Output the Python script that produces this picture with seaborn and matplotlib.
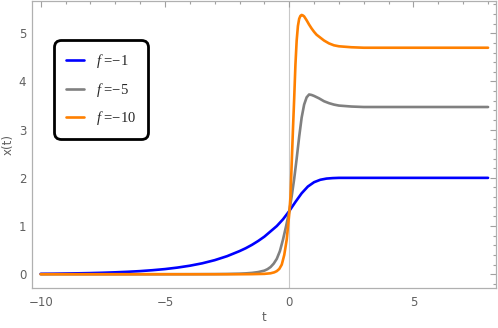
import matplotlib
matplotlib.use('Agg')
import matplotlib.pyplot as plt
from matplotlib.ticker import MultipleLocator
import numpy as np
import pandas as pd
import seaborn as sns

# values
t_blue = [-10, -9.5, -9, -8.5, -8, -7.5, -7, -6.5, -6, -5.5, -5, -4.5, -4, -3.5, -3,
          -2.5, -2, -1.75, -1.5, -1.25, -1, -0.75, -0.5, -0.25, 0, 0.25, 0.5, 0.75,
          1, 1.25, 1.5, 1.75, 2, 2.5, 3, 4, 5, 6, 7, 8]
x_blue = [0.009, 0.011, 0.015, 0.019, 0.024, 0.031, 0.040, 0.051, 0.065, 0.084, 0.107,
          0.138, 0.177, 0.227, 0.292, 0.375, 0.48, 0.54, 0.61, 0.69, 0.78, 0.89, 1.0,
          1.14, 1.31, 1.5, 1.68, 1.82, 1.91, 1.96, 1.985, 1.995, 2.0, 2.0, 2.0, 2.0,
          2.0, 2.0, 2.0, 2.0]

t_gray = [-10, -8, -6, -4, -3, -2.5, -2, -1.75, -1.5, -1.25, -1, -0.875, -0.75, -0.625,
          -0.5, -0.375, -0.25, -0.125, 0, 0.1, 0.2, 0.3, 0.4, 0.5, 0.6, 0.7, 0.8, 0.9,
          1.0, 1.2, 1.4, 1.6, 1.8, 2.0, 2.5, 3, 4, 5, 6, 7, 8]
x_gray = [0.0, 0.0, 0.0, 0.001, 0.003, 0.006, 0.012, 0.018, 0.028, 0.045, 0.075, 0.105,
          0.15, 0.22, 0.32, 0.48, 0.72, 1.0, 1.3, 1.62, 1.98, 2.4, 2.85, 3.25, 3.52,
          3.67, 3.73, 3.72, 3.70, 3.65, 3.59, 3.55, 3.52, 3.50, 3.48, 3.47, 3.47, 3.47,
          3.47, 3.47, 3.47]

t_orange = [-10, -8, -6, -4, -2, -1.5, -1, -0.75, -0.6, -0.5, -0.4, -0.3, -0.2, -0.1, 0,
            0.05, 0.1, 0.15, 0.2, 0.25, 0.3, 0.35, 0.4, 0.45, 0.5, 0.55, 0.6, 0.65, 0.7,
            0.8, 0.9, 1.0, 1.1, 1.2, 1.4, 1.6, 1.8, 2.0, 2.5, 3, 4, 5, 6, 7, 8]
x_orange = [0.0, 0.0, 0.0, 0.0, 0.0, 0.002, 0.008, 0.02, 0.04, 0.065, 0.11, 0.2, 0.4,
            0.72, 1.25, 1.6, 2.3, 3.0, 3.65, 4.35, 4.85, 5.15, 5.3, 5.36, 5.38, 5.37,
            5.35, 5.31, 5.27, 5.18, 5.1, 5.03, 4.97, 4.93, 4.85, 4.79, 4.75, 4.73, 4.71,
            4.70, 4.70, 4.70, 4.70, 4.70, 4.70]

labels = [r'$f$ =−1', r'$f$ =−5', r'$f$ =−10']
colors = ['#0000ff', '#808080', '#ff8000']

sns.set_style('white')
plt.rcParams['mathtext.fontset'] = 'custom'
plt.rcParams['mathtext.it'] = 'Liberation Serif:italic'
plt.rcParams['mathtext.rm'] = 'Liberation Serif'

fig = plt.figure(figsize=(4.98, 3.28), dpi=100)
ax = fig.add_axes([0.0637, 0.122, 0.9323, 0.875])

series = [(t_blue, x_blue), (t_gray, x_gray), (t_orange, x_orange)]
for (t, x), lab, c in zip(series, labels, colors):
    sns.lineplot(x=t, y=x, ax=ax, color=c, linewidth=1.9, label=lab, sort=False)

ax.axvline(0, color='#c8c8c8', linewidth=0.8, zorder=0)

ax.set_xlim(-10.36, 8.32)
ax.set_ylim(-0.285, 5.67)

ax.xaxis.set_major_locator(MultipleLocator(5))
ax.xaxis.set_minor_locator(MultipleLocator(1))
ax.yaxis.set_major_locator(MultipleLocator(1))
ax.yaxis.set_minor_locator(MultipleLocator(0.2))
ax.tick_params(which='both', direction='in', top=True, right=True,
               color='#a0a0a0', width=0.8, labelcolor='#606060', labelsize=8.5)
ax.tick_params(which='major', length=4)
ax.tick_params(which='minor', length=2.3)
ax.tick_params(axis='x', pad=6)
ax.tick_params(axis='y', pad=4)
ax.set_xticks([-10, -5, 0, 5])
ax.set_xticklabels(['−10', '−5', '0', '5'])

for s in ax.spines.values():
    s.set_color('#b0b0b0')
    s.set_linewidth(0.9)

ax.set_xlabel('t', color='#606060', fontsize=8.5, labelpad=1)
ax.set_ylabel('x(t)', color='#606060', fontsize=8.5, labelpad=3)

leg = ax.legend(loc='upper left', bbox_to_anchor=(0.048, 0.864), borderaxespad=0,
                frameon=True, fancybox=True, framealpha=1, handlelength=1.2,
                handletextpad=0.8, labelspacing=0.7, borderpad=0.85,
                prop={'family': 'Liberation Serif', 'size': 10.5})
leg.get_frame().set_edgecolor('black')
leg.get_frame().set_linewidth(2)
leg.get_frame().set_boxstyle('round,pad=0,rounding_size=0.5')

fig.savefig('out.png', dpi=100)
